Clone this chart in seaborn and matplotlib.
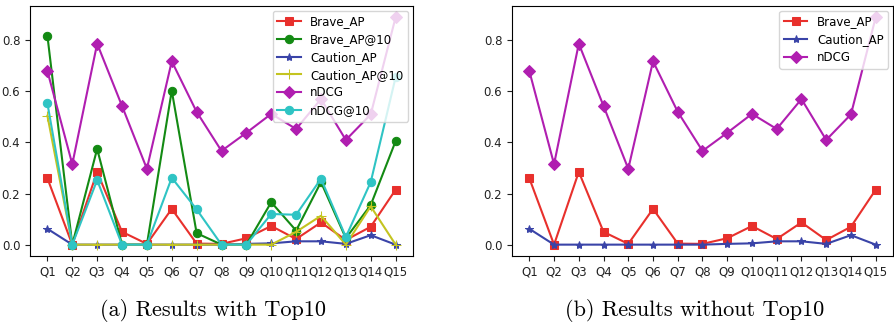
import matplotlib
matplotlib.use("Agg")
import matplotlib.pyplot as plt
import seaborn as sns
import pandas as pd

queries = [f"Q{i}" for i in range(1, 16)]

brave_ap = [0.26, 0.0, 0.285, 0.05, 0.003, 0.14, 0.004, 0.003, 0.025, 0.073, 0.022, 0.087, 0.018, 0.07, 0.215]
brave_ap10 = [0.818, 0.0, 0.375, 0.0, 0.0, 0.603, 0.045, 0.0, 0.0, 0.166, 0.055, 0.245, 0.025, 0.155, 0.405]
caution_ap = [0.062, 0.0, 0.0, 0.0, 0.0, 0.0, 0.0, 0.0, 0.003, 0.005, 0.013, 0.013, 0.003, 0.037, 0.0]
caution_ap10 = [0.505, 0.0, 0.0, 0.0, 0.0, 0.0, 0.0, 0.0, 0.0, 0.0, 0.05, 0.113, 0.0, 0.15, 0.0]
ndcg = [0.68, 0.315, 0.787, 0.543, 0.297, 0.718, 0.52, 0.367, 0.438, 0.512, 0.453, 0.57, 0.41, 0.51, 0.89]
ndcg10 = [0.553, 0.0, 0.253, 0.0, 0.0, 0.262, 0.138, 0.0, 0.0, 0.12, 0.117, 0.258, 0.03, 0.245, 0.655]

captions = ["(a) Results with Top10", "(b) Results without Top10"]

styles = {
    "Brave_AP": ("#e8302c", "s", 6),
    "Brave_AP@10": ("#138a13", "o", 6),
    "Caution_AP": ("#3a44a8", "*", 6),
    "Caution_AP@10": ("#c4c420", "+", 7),
    "nDCG": ("#b01eb0", "D", 6),
    "nDCG@10": ("#2fc4c4", "o", 6),
}

left_series = [("Brave_AP", brave_ap), ("Brave_AP@10", brave_ap10), ("Caution_AP", caution_ap),
               ("Caution_AP@10", caution_ap10), ("nDCG", ndcg), ("nDCG@10", ndcg10)]
right_series = [("Brave_AP", brave_ap), ("Caution_AP", caution_ap), ("nDCG", ndcg)]

plt.rcParams["font.size"] = 8.5

fig = plt.figure(figsize=(8.95, 3.22), dpi=100)
ax1 = fig.add_axes([30 / 895, 66 / 322, 383 / 895, 250 / 322])
ax2 = fig.add_axes([512 / 895, 66 / 322, 381 / 895, 250 / 322])

for ax, series in [(ax1, left_series), (ax2, right_series)]:
    for name, vals in series:
        color, marker, ms = styles[name]
        df = pd.DataFrame({"q": queries, "v": vals})
        sns.lineplot(data=df, x="q", y="v", ax=ax, color=color, marker=marker,
                     markersize=ms, markeredgecolor=color, linewidth=1.5,
                     label=name, sort=False)
    ax.set_xlabel("")
    ax.set_ylabel("")
    ax.set_yticks([0.0, 0.2, 0.4, 0.6, 0.8])
    ax.tick_params(labelsize=8.5, colors="#222222")
    ax.legend(loc="upper right", fontsize=8.5, framealpha=0.8, labelspacing=0.4,
              borderaxespad=0.4)

fig.text(213 / 895, 1 - 310 / 322, captions[0], ha="center", va="center",
         fontsize=16, family=["cmr10", "DejaVu Serif"])
fig.text(695 / 895, 1 - 310 / 322, captions[1], ha="center", va="center",
         fontsize=16, family=["cmr10", "DejaVu Serif"])

fig.savefig("out.png", dpi=100)
